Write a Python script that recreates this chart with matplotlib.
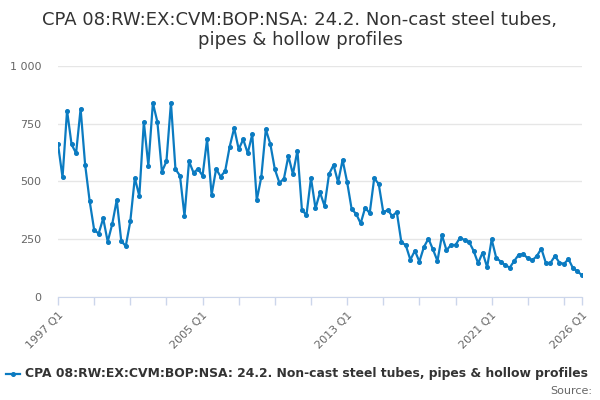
import matplotlib
matplotlib.use("Agg")
import matplotlib.pyplot as plt
from matplotlib.lines import Line2D

# quarterly values, 1997 Q1 .. 2026 Q1
values = [
    660, 518, 806, 660, 622, 814, 573, 416, 291, 275, 341, 240,
    316, 420, 243, 221, 328, 515, 437, 757, 568, 839, 757, 542,
    587, 840, 553, 525, 351, 587, 538, 554, 525, 682, 442, 554,
    521, 545, 650, 731, 639, 682, 622, 704, 420, 519, 725, 662,
    553, 495, 511, 610, 532, 633, 377, 355, 515, 384, 453, 394,
    532, 571, 497, 593, 498, 381, 360, 319, 387, 363, 514, 489,
    368, 376, 351, 368, 239, 224, 162, 201, 154, 217, 253, 207,
    157, 268, 203, 226, 226, 257, 247, 239, 201, 147, 193, 130,
    250, 171, 154, 139, 128, 157, 184, 187, 168, 160, 178, 210,
    148, 148, 178, 150, 144, 165, 126, 112, 95,
]
start_year = 1997
quarters = [f"{start_year + i // 4} Q{i % 4 + 1}" for i in range(len(values))]

title = "CPA 08:RW:EX:CVM:BOP:NSA: 24.2. Non-cast steel tubes,\npipes & hollow profiles"
series_name = "CPA 08:RW:EX:CVM:BOP:NSA: 24.2. Non-cast steel tubes, pipes & hollow profiles"
y_ticks = [0, 250, 500, 750, 1000]
y_labels = ["0", "250", "500", "750", "1 000"]
label_quarters = ["1997 Q1", "2005 Q1", "2013 Q1", "2021 Q1", "2026 Q1"]

line_color = "#0b7bc1"
grid_color = "#e6e6e6"
axis_color = "#ccd6eb"

fig = plt.figure(figsize=(6, 4), dpi=100)
ax = fig.add_axes([0.0967, 0.2568, 0.8733, 0.579])

x = list(range(len(values)))
ax.plot(x, values, color=line_color, lw=1.6, marker="o", ms=2.6, zorder=3)

ax.set_xlim(0, len(values) - 1)
ax.set_ylim(0, 1000)

ax.set_yticks(y_ticks)
ax.set_yticklabels(y_labels, fontsize=8, color="#666666")
ax.tick_params(axis="y", length=0, pad=12)
ax.yaxis.grid(True, color=grid_color, lw=1)
ax.set_axisbelow(True)

# ticks every two years, labels every eight years + last quarter
tick_pos = list(range(0, len(values) - 4, 8)) + [len(values) - 1]
ax.set_xticks(tick_pos)
ax.set_xticklabels([quarters[p] if quarters[p] in label_quarters else "" for p in tick_pos],
                   rotation=45, ha="right", rotation_mode="anchor",
                   fontsize=8, color="#666666")
ax.tick_params(axis="x", length=6, width=1, color=axis_color, pad=3)

for side in ["top", "right", "left"]:
    ax.spines[side].set_visible(False)
ax.spines["bottom"].set_color(axis_color)

fig.text(0.5, 0.925, title, ha="center", va="center", fontsize=13, color="#333333",
         linespacing=1.1)

# legend drawn by hand so it fits the width like the reference
leg_y = 1 - 374 / 400
fig.add_artist(Line2D([6 / 600, 20 / 600], [leg_y, leg_y], color=line_color, lw=1.6))
fig.add_artist(Line2D([13 / 600], [leg_y], color=line_color, marker="o", ms=2.6))
fig.text(25 / 600, leg_y, series_name, ha="left", va="center", fontsize=8.95,
         fontweight="bold", color="#333333")

fig.text(592 / 600, 1 - 391 / 400, "Source:", ha="right", va="center", fontsize=8,
         color="#666666")

fig.savefig("out.png", dpi=100)
